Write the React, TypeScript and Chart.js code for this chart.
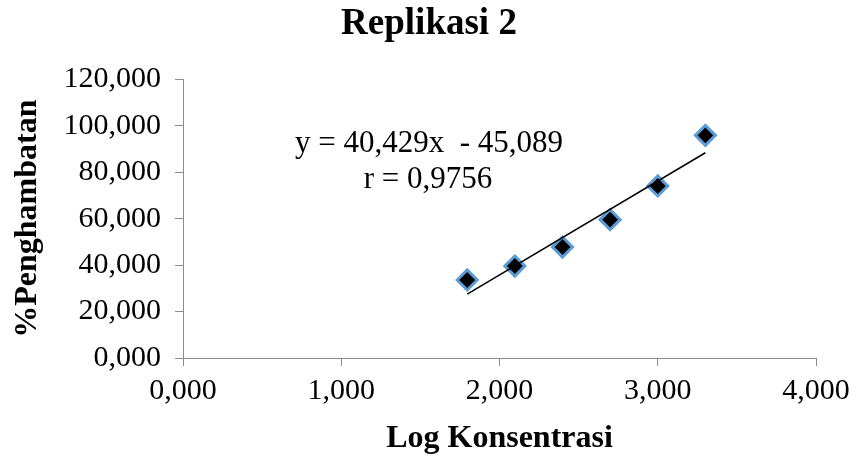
import React, { useEffect, useRef } from "react";
import { Chart, registerables } from "chart.js";

Chart.register(...registerables);

const logKonsentrasi = [1.796, 2.097, 2.398, 2.699, 3.0, 3.301];
const penghambatan = [33.6, 39.6, 47.8, 59.6, 74.1, 95.9];
const trendX = [1.796, 3.301];
const trendY = [27.5, 88.4];
const equationLines = ["y = 40,429x  - 45,089", "r = 0,9756"];
const chartTitle = "Replikasi 2";
const xTitle = "Log Konsentrasi";
const yTitle = "%Penghambatan";

const SERIF = "'Liberation Serif', 'Times New Roman', serif";

const fmt = (v: number) => Number(v).toFixed(3).replace(".", ",");

export default function App() {
  const ref = useRef<HTMLCanvasElement | null>(null);

  useEffect(() => {
    document.body.style.margin = "0";
    document.body.style.background = "#ffffff";
    const canvas = ref.current;
    if (!canvas) return;

    const equationPlugin = {
      id: "equationText",
      afterDatasetsDraw(chart: any) {
        const ctx = chart.ctx;
        ctx.save();
        ctx.fillStyle = "#000";
        ctx.font = `31px ${SERIF}`;
        ctx.textAlign = "center";
        ctx.textBaseline = "alphabetic";
        ctx.fillText(equationLines[0], 429, 152);
        ctx.fillText(equationLines[1], 428, 188);
        ctx.restore();
      },
    };

    const bgPlugin = {
      id: "bg",
      beforeDraw(chart: any) {
        const ctx = chart.ctx;
        ctx.save();
        ctx.fillStyle = "#ffffff";
        ctx.fillRect(0, 0, chart.width, chart.height);
        ctx.restore();
      },
    };

    const chart = new Chart(canvas, {
      type: "scatter",
      data: {
        datasets: [
          {
            label: "Trendline",
            data: trendX.map((x, i) => ({ x, y: trendY[i] })),
            showLine: true,
            borderColor: "#000000",
            borderWidth: 1.5,
            pointRadius: 0,
            fill: false,
          },
          {
            label: "Replikasi 2",
            data: logKonsentrasi.map((x, i) => ({ x, y: penghambatan[i] })),
            pointStyle: "rectRot",
            pointRadius: 10,
            pointBackgroundColor: "#000000",
            pointBorderColor: "#5b9bd5",
            pointBorderWidth: 3,
            showLine: false,
          },
        ],
      },
      options: {
        responsive: false,
        animation: false,
        layout: { padding: { left: 0, right: 0, top: 0, bottom: 0 } },
        plugins: {
          legend: { display: false },
          tooltip: { enabled: false },
          title: {
            display: true,
            text: chartTitle,
            color: "#000",
            font: { family: SERIF, size: 37, weight: "bold" },
            padding: { top: 2, bottom: 33 },
          },
        },
        scales: {
          x: {
            type: "linear",
            min: 0,
            max: 4,
            afterFit: (s: any) => {
              s.height = 102;
              s.paddingRight = 42;
            },
            ticks: {
              stepSize: 1,
              color: "#000",
              font: { family: SERIF, size: 30 },
              padding: 7,
              maxRotation: 0,
              callback: (v: any) => fmt(v),
            },
            grid: {
              drawOnChartArea: false,
              drawTicks: true,
              tickLength: 8,
              color: "#8c8c8c",
            },
            border: { color: "#8c8c8c", width: 1 },
            title: {
              display: true,
              text: xTitle,
              color: "#000",
              font: { family: SERIF, size: 32, weight: "bold" },
              padding: { top: 0, bottom: 2 },
            },
          },
          y: {
            type: "linear",
            min: 0,
            max: 120,
            afterFit: (s: any) => {
              s.width = 183;
            },
            ticks: {
              stepSize: 20,
              color: "#000",
              font: { family: SERIF, size: 30 },
              padding: 14,
              callback: (v: any) => fmt(v),
            },
            grid: {
              drawOnChartArea: false,
              drawTicks: true,
              tickLength: 8,
              color: "#8c8c8c",
            },
            border: { color: "#8c8c8c", width: 1 },
            title: {
              display: true,
              text: yTitle,
              color: "#000",
              font: { family: SERIF, size: 32, weight: "bold" },
              padding: { top: 9, bottom: 0 },
            },
          },
        },
      },
      plugins: [bgPlugin, equationPlugin],
    } as any);

    return () => chart.destroy();
  }, []);

  return (
    <div style={{ width: 858, height: 460 }}>
      <canvas ref={ref} width={858} height={460} style={{ display: "block" }} />
    </div>
  );
}
